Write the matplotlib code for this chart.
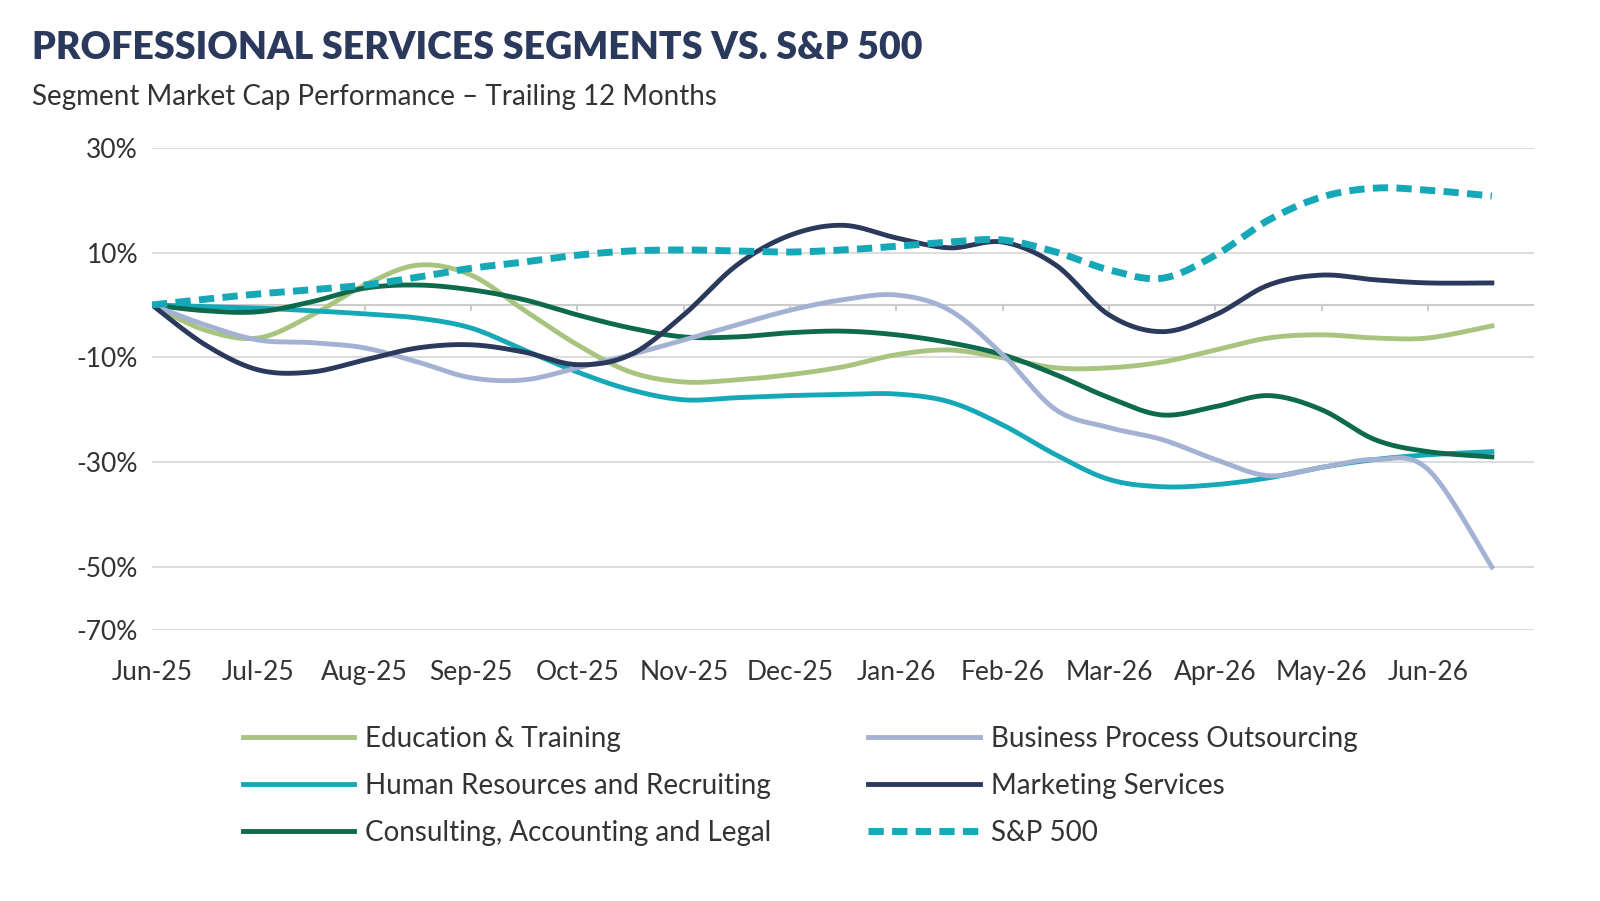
import numpy as np
import matplotlib.pyplot as plt

plt.rcParams['font.family'] = ['Lato', 'DejaVu Sans']

months = ["Jun-25", "Jul-25", "Aug-25", "Sep-25", "Oct-25", "Nov-25", "Dec-25",
          "Jan-26", "Feb-26", "Mar-26", "Apr-26", "May-26", "Jun-26"]
x = list(np.arange(0, 12.5, 0.5)) + [12.6]

education = [0, -4.8, -6.3, -2, 3.8, 7.6, 5.7, -1, -7.6, -12.8, -14.7, -14.3, -13.3,
             -11.8, -9.5, -8.6, -10.1, -12, -12, -10.9, -8.6, -6.3, -5.7, -6.3, -6.3, -4]
bpo = [0, -3.8, -6.7, -7.2, -8.2, -10.9, -13.9, -14.3, -12, -9.5, -6.7, -3.8, -1,
       1, 1.9, -1, -9.5, -20, -23.4, -25.7, -29.5, -32.6, -31, -29.5, -31.4, -50]
hr = [0, -0.3, -0.6, -1.1, -1.7, -2.5, -4.4, -8.6, -12.8, -16.2, -18.1, -17.7, -17.3,
      -17.1, -17, -18.5, -22.9, -28.6, -33.3, -34.7, -34.3, -33, -31, -29.5, -28.6, -28]
marketing = [0, -7.6, -12.4, -12.8, -10.5, -8.2, -7.6, -9, -11.4, -9.5, -1.9, 7.6, 13.3,
             15.2, 12.8, 10.9, 12, 7.6, -1.9, -5.1, -1.9, 3.8, 5.7, 4.8, 4.2, 4.2]
consulting = [0, -1.1, -1.3, 0.6, 3.2, 3.8, 2.9, 1, -1.9, -4.4, -6.1, -6.1, -5.3,
              -5, -5.7, -7.2, -9.5, -13.3, -17.7, -21, -19.4, -17.3, -20, -25.7, -28, -29]
sp500 = [0, 1.1, 2.1, 2.9, 3.8, 5.3, 7, 8.2, 9.5, 10.3, 10.5, 10.3, 10.1,
         10.5, 11.2, 12, 12.4, 10.1, 6.7, 5.1, 9.5, 16.2, 20.6, 22.3, 21.9, 20.8]


def smooth(xs, ys, n=20):
    # Catmull-Rom, like Excel's smoothed lines
    xs, ys = np.asarray(xs, float), np.asarray(ys, float)
    px = np.concatenate([[xs[0]], xs, [xs[-1]]])
    py = np.concatenate([[ys[0]], ys, [ys[-1]]])
    ox, oy = [], []
    t = np.linspace(0, 1, n, endpoint=False)
    for i in range(1, len(px) - 2):
        for p, o in ((px, ox), (py, oy)):
            p0, p1, p2, p3 = p[i - 1], p[i], p[i + 1], p[i + 2]
            o.extend(0.5 * (2 * p1 + (-p0 + p2) * t + (2 * p0 - 5 * p1 + 4 * p2 - p3) * t ** 2
                            + (-p0 + 3 * p1 - 3 * p2 + p3) * t ** 3))
    ox.append(xs[-1]); oy.append(ys[-1])
    return ox, oy


fig = plt.figure(figsize=(16, 9.01), dpi=100)
ax = fig.add_axes([0.095, 0.301, 0.864, 0.535])

series = [
    ("Education & Training", education, "#a9c47f", "-"),
    ("Human Resources and Recruiting", hr, "#17a8b8", "-"),
    ("Consulting, Accounting and Legal", consulting, "#0e6a4c", "-"),
    ("Business Process Outsourcing", bpo, "#a3b1d3", "-"),
    ("Marketing Services", marketing, "#2b3a5c", "-"),
    ("S&P 500", sp500, "#17a8b8", "--"),
]
for name, ys, c, ls in series:
    sx, sy = smooth(x, ys)
    ax.plot(sx, sy, color=c, lw=3.5 if ls == "-" else 5, ls=ls,
            dashes=(2.2, 1.2) if ls == "--" else (None, None), label=name, zorder=3)

ax.set_xlim(0, 13)
ax.set_ylim(-62, 30)
ax.set_yticks([30, 10, -10, -30, -50, -62])
ax.set_yticklabels(["30%", "10%", "-10%", "-30%", "-50%", "-70%"])
ax.set_xticks(range(13))
ax.set_xticklabels(months)
ax.grid(axis="y", color="#dddddd", lw=1.5)
ax.axhline(0, color="#cccccc", lw=1.5, zorder=1)
for i in range(1, 13):
    ax.plot([i, i], [-1, 0], color="#cccccc", lw=1.5, zorder=1)
for s in ax.spines.values():
    s.set_visible(False)
ax.tick_params(length=0, labelsize=19, colors="#333333")
ax.tick_params(axis="x", pad=22)
ax.tick_params(axis="y", pad=10)

fig.text(0.02, 0.947, "PROFESSIONAL SERVICES SEGMENTS VS. S&P 500", fontsize=27,
         fontweight="heavy", color="#2b3a5c", va="center")
fig.text(0.02, 0.892, "Segment Market Cap Performance \u2013 Trailing 12 Months",
         fontsize=20, color="#333333", va="center")

fig.legend(loc="center", bbox_to_anchor=(0.5, 0.128), ncol=2, frameon=False,
           fontsize=20, handlelength=4, columnspacing=3.5, labelspacing=0.75,
           handletextpad=0.4, labelcolor="#333333")

fig.savefig("out.png", dpi=100)
